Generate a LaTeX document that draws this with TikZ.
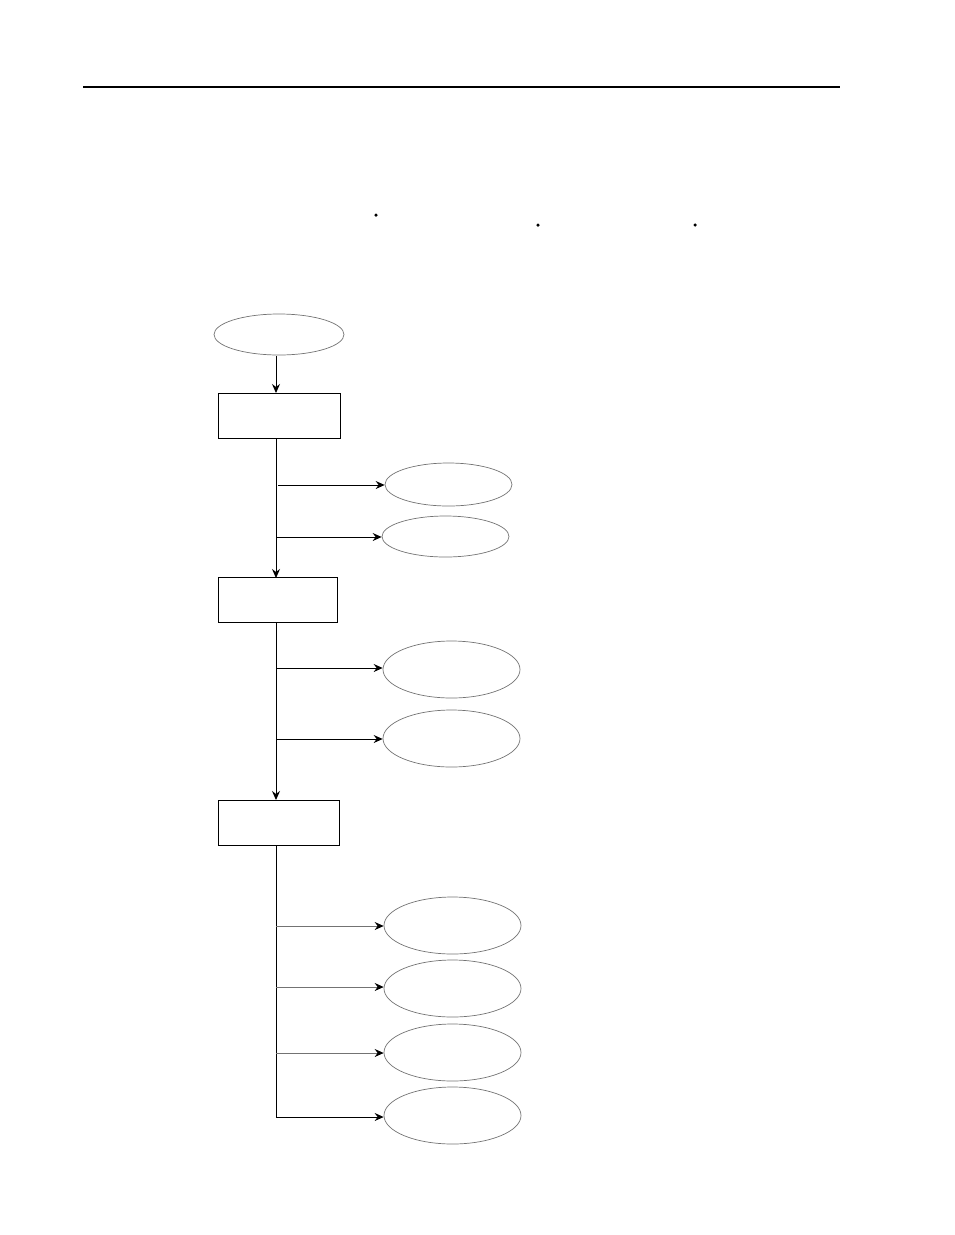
\documentclass[tikz,border=0pt]{standalone}
\usetikzlibrary{shapes.geometric,arrows.meta}
\begin{document}
\begin{tikzpicture}[x=1pt,y=-1pt,
  oval/.style={draw=black!55,line width=0.7pt,ellipse,inner sep=0pt},
  box/.style={draw=black,line width=1pt,rectangle,inner sep=0pt},
  link/.style={draw=black,line width=1pt},
  glink/.style={draw=black!55,line width=0.8pt},
  tip/.style={-{Stealth[length=9pt,width=8pt,inset=3pt,color=black]}},
  dot/.style={circle,fill=black,inner sep=0pt,minimum size=3.5pt}]
\useasboundingbox (0,0) rectangle (954,1235);
% top rule
\coordinate (r1) at (83,87);
\coordinate (r2) at (840,87);
\draw[line width=2pt] (r1) -- (r2);
% dots
\node[dot] (d1) at (376,215) {};
\node[dot] (d2) at (538,225) {};
\node[dot] (d3) at (695,225) {};
% start
\node[oval,minimum width=130pt,minimum height=41pt] (st) at (279,334.5) {};
\node[box,minimum width=122pt,minimum height=45pt] (b1) at (279,415.5) {};
\node[box,minimum width=119pt,minimum height=45pt] (b2) at (277.5,599.5) {};
\node[box,minimum width=121pt,minimum height=45pt] (b3) at (278.5,822.5) {};
% ellipses
\node[oval,minimum width=127pt,minimum height=43pt] (e1) at (448.5,484.5) {};
\node[oval,minimum width=127pt,minimum height=41pt] (e2) at (445.5,536.5) {};
\node[oval,minimum width=137pt,minimum height=57pt] (e3) at (451.5,669.5) {};
\node[oval,minimum width=137pt,minimum height=57pt] (e4) at (451.5,738.5) {};
\node[oval,minimum width=137pt,minimum height=57pt] (e5) at (452.5,925.5) {};
\node[oval,minimum width=137pt,minimum height=57pt] (e6) at (452.5,988.5) {};
\node[oval,minimum width=137pt,minimum height=57pt] (e7) at (452.5,1052.5) {};
\node[oval,minimum width=137pt,minimum height=57pt] (e8) at (452.5,1115.5) {};
% spine coordinates
\coordinate (s0) at (276,356);
\coordinate (s0e) at (276,393);
\coordinate (s1) at (276,438);
\coordinate (s1e) at (276,578);
\coordinate (s2) at (276,622);
\coordinate (s2e) at (276,800);
\coordinate (s3) at (276,845);
\coordinate (s3e) at (276,1117);
\coordinate (c1) at (278,485);
\coordinate (c2) at (276,537);
\coordinate (c3) at (276,668);
\coordinate (c4) at (277,739);
\coordinate (c5) at (276,926);
\coordinate (c6) at (276,987);
\coordinate (c7) at (276,1053);
% connectors
\draw[link,tip] (s0) -- (s0e);
\draw[link,tip] (s1) -- (s1e);
\draw[link,tip] (s2) -- (s2e);
\draw[link,tip] (s3) -- (s3e) -- (s3e -| e8.west);
\draw[link,tip] (c1) -- (c1 -| e1.west);
\draw[link,tip] (c2) -- (c2 -| e2.west);
\draw[link,tip] (c3) -- (c3 -| e3.west);
\draw[link,tip] (c4) -- (c4 -| e4.west);
\draw[glink,tip] (c5) -- (c5 -| e5.west);
\draw[glink,tip] (c6) -- (c6 -| e6.west);
\draw[glink,tip] (c7) -- (c7 -| e7.west);
\end{tikzpicture}
\end{document}
